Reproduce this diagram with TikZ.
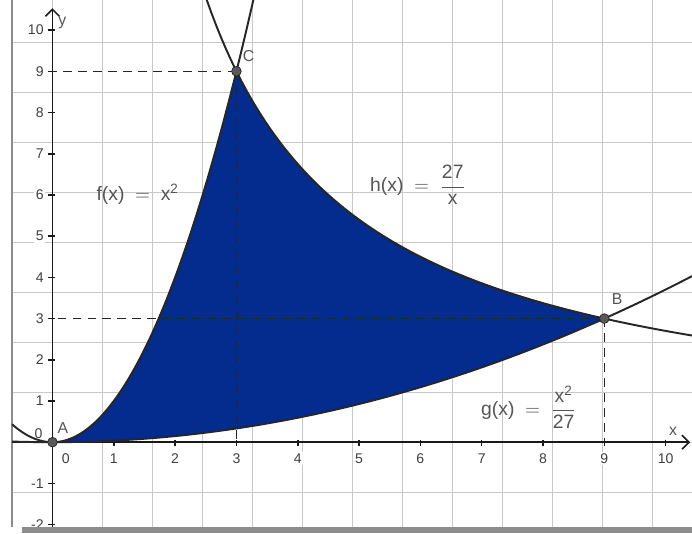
\documentclass[tikz,border=0pt]{standalone}
\usepackage{fontspec}
\setmainfont{Liberation Sans}
\setsansfont{Liberation Sans}
\usepackage{tikz}
\usetikzlibrary{arrows.meta}

\definecolor{regionblue}{RGB}{4,44,142}
\definecolor{gridgray}{RGB}{200,200,200}
\definecolor{labelgray}{RGB}{85,85,85}

\begin{document}
\begin{tikzpicture}[x=1.226cm, y=0.824cm,
  axis/.style={line width=0.9pt, black!90},
  curve/.style={line width=1.1pt, black!85},
  helper/.style={line width=0.9pt, black!85, dash pattern=on 5pt off 3.5pt},
  numlabel/.style={font=\fontsize{8}{9}\selectfont, text=black!75, fill=white, inner sep=1pt},
  pt/.style={circle, fill=black!65, draw=black!85, inner sep=0pt, minimum size=5.5pt},
  ptlabel/.style={font=\fontsize{9}{11}\selectfont, text=labelgray},
  fnlabel/.style={font=\fontsize{11}{13}\selectfont, text=labelgray}]
\useasboundingbox (-0.856,-2.21) rectangle (10.43,10.73);
% grid and frame
\draw[gridgray, line width=0.5pt] (-0.66,-2.05) grid (10.43,10.73);
\draw[black!45, line width=0.8pt] (-0.66,-2.05) -- (-0.66,10.73);
% region between the curves
\fill[regionblue] plot[domain=0:3, samples=60] (\x,{\x*\x}) -- plot[domain=3:9, samples=80] (\x,{27/\x}) -- plot[domain=9:0, samples=80] (\x,{\x*\x/27}) -- cycle;
% axes
\draw[axis, -{Straight Barb[length=4pt]}] (-0.66,0) -- (10.4,0);
\draw[axis, -{Straight Barb[length=4pt]}] (0,-2.05) -- (0,10.53);
\node[ptlabel] (xlab) at (10.12,0.27) {x};
\node[ptlabel] (ylab) at (0.16,10.17) {y};
\foreach \i in {1,...,10} {
  \draw[axis] (\i,0.06) -- (\i,-0.1);
  \node[numlabel] (xt\i) at (\i,-0.39) {\i};
}
\node[numlabel] (xt0) at (0.215,-0.39) {0};
\foreach \j in {-2,-1,1,2,3,4,5,6,7,8,9,10} {
  \draw[axis] (0.04,\j) -- (-0.065,\j);
  \node[numlabel, anchor=east] (yt\j) at (-0.11,\j) {\j};
}
\node[numlabel, anchor=east, fill=none] (yt0) at (-0.13,0.2) {0};
% curves
\draw[curve, domain=-0.66:3.276, samples=80] plot (\x,{\x*\x});
\draw[curve, domain=2.516:10.43, samples=100] plot (\x,{27/\x});
\draw[curve, domain=-0.66:10.43, samples=100] plot (\x,{\x*\x/27});
% points and helper lines
\coordinate (c9) at (0,9);
\coordinate (c3) at (3,0);
\coordinate (b3) at (0,3);
\coordinate (b9) at (9,0);
\draw[helper] (3,9) -- (c9);
\draw[helper] (3,9) -- (c3);
\draw[helper] (9,3) -- (b3);
\draw[helper] (9,3) -- (b9);
\node[pt] (A) at (0,0) {};
\node[pt] (B) at (9,3) {};
\node[pt] (C) at (3,9) {};
\node[ptlabel] (Alab) at (0.17,0.34) {A};
\node[ptlabel] (Blab) at (9.21,3.47) {B};
\node[ptlabel] (Clab) at (3.2,9.37) {C};
% function labels
\node[fnlabel] (flab) at (1.39,6.02) {$\hbox{f(x)}\;=\;\hbox{x\textsuperscript{2}}$};
\node[fnlabel] (hlab) at (5.96,6.24) {$\hbox{h(x)}\;=\;\displaystyle\frac{\hbox{27}}{\hbox{x}}$};
\node[fnlabel] (glab) at (7.77,0.85) {$\hbox{g(x)}\;=\;\displaystyle\frac{\hbox{x\textsuperscript{2}}}{\hbox{27}}$};
% bottom bar
\fill[black!45] (-0.5,-2.05) rectangle (10.43,-2.21);
\end{tikzpicture}
\end{document}
